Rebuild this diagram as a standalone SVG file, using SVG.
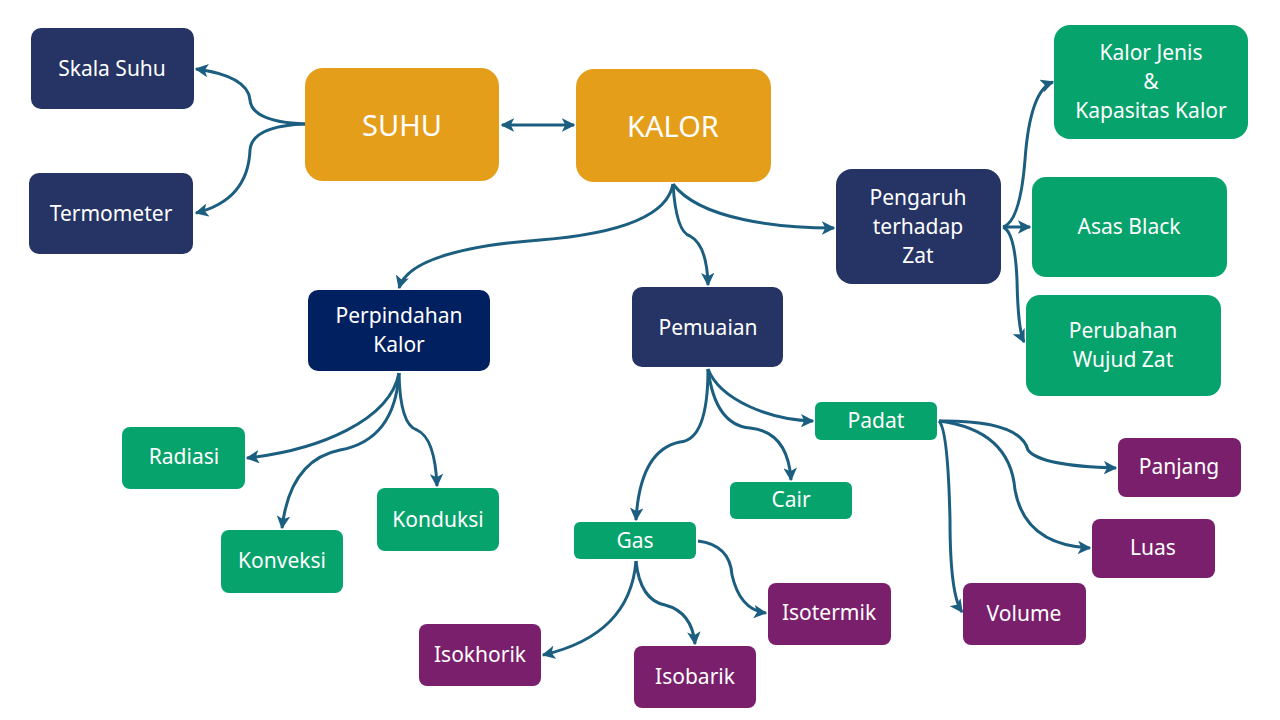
<svg xmlns="http://www.w3.org/2000/svg" width="1280" height="720" viewBox="0 0 1280 720">
<defs>
<marker id="ah" viewBox="0 0 10 10" refX="9" refY="5" markerWidth="4.5" markerHeight="4.5" orient="auto-start-reverse" markerUnits="strokeWidth">
<path d="M0,0 L10,5 L0,10 L2.5,5 Z" fill="#1B5E80"/>
</marker>
<style>
.navy{fill:#253465}
.dnavy{fill:#002060}
.orange{fill:#E59E1A}
.green{fill:#06A36C}
.purple{fill:#7A1F6C}
text{font-family:"Noto Sans","Open Sans","Liberation Sans",sans-serif;fill:#ffffff;font-size:21px;text-anchor:middle}
.big{font-size:29px}
#connectors path{fill:none;stroke:#1B5E80;stroke-width:3;marker-end:url(#ah)}
</style>
</defs>
<rect width="1280" height="720" fill="#ffffff"/>
<g id="connectors">
<path d="M305,124 Q252,122 250,100 Q248,76 196,69"/>
<path d="M305,124 Q252,126 250,150 Q248,200 196,213"/>
<path d="M502,125 L574,125" marker-start="url(#ah)"/>
<path d="M673,184 Q665,230 540,240 Q410,250 399,288"/>
<path d="M673,184 Q676,232 690,236 Q707,245 708,285"/>
<path d="M673,184 C700,220 780,228 834,228"/>
<path d="M1003,227 Q1020,222 1025,160 Q1030,90 1053,82"/>
<path d="M1003,227 L1030,227"/>
<path d="M1003,227 Q1015,232 1017,280 Q1018,330 1024,342"/>
<path d="M399,373 C390,420 320,450 247,458"/>
<path d="M399,373 Q395,440 340,450 Q290,460 282,528"/>
<path d="M399,373 Q400,425 417,430 Q435,438 437,486"/>
<path d="M708,369 Q708,440 680,442 Q640,450 636,520"/>
<path d="M708,369 Q715,425 750,428 Q788,432 791,480"/>
<path d="M708,369 C720,400 770,420 813,421"/>
<path d="M939,421 Q1020,420 1028,450 Q1040,466 1116,468"/>
<path d="M939,421 Q1010,430 1015,490 Q1025,545 1090,548"/>
<path d="M939,421 Q948,430 950,520 Q950,595 962,612"/>
<path d="M636,561 Q630,635 543,655"/>
<path d="M636,561 Q640,600 665,605 Q692,612 695,644"/>
<path d="M698,541 Q730,545 732,575 Q740,610 766,613"/>
</g>
<g id="skala-suhu"><rect class="navy" x="31" y="28" width="163" height="81" rx="10"/><text x="112" y="76">Skala Suhu</text></g>
<g id="termometer"><rect class="navy" x="29" y="173" width="164" height="81" rx="10"/><text x="111" y="221">Termometer</text></g>
<g id="suhu"><rect class="orange" x="305" y="68" width="194" height="113" rx="18"/><text class="big" x="402" y="136">SUHU</text></g>
<g id="kalor"><rect class="orange" x="576" y="69" width="195" height="113" rx="18"/><text class="big" x="673" y="137">KALOR</text></g>
<g id="kalor-jenis"><rect class="green" x="1054" y="25" width="194" height="114" rx="16"/><text x="1151" y="60">Kalor Jenis</text><text x="1151" y="89">&amp;</text><text x="1151" y="118">Kapasitas Kalor</text></g>
<g id="asas-black"><rect class="green" x="1032" y="177" width="195" height="100" rx="14"/><text x="1129" y="234">Asas Black</text></g>
<g id="perubahan-wujud"><rect class="green" x="1026" y="295" width="195" height="101" rx="14"/><text x="1123" y="338">Perubahan</text><text x="1123" y="367">Wujud Zat</text></g>
<g id="pengaruh"><rect class="navy" x="836" y="169" width="165" height="115" rx="16"/><text x="918" y="205">Pengaruh</text><text x="918" y="234">terhadap</text><text x="918" y="263">Zat</text></g>
<g id="perpindahan"><rect class="dnavy" x="308" y="290" width="182" height="81" rx="10"/><text x="399" y="323">Perpindahan</text><text x="399" y="352">Kalor</text></g>
<g id="pemuaian"><rect class="navy" x="632" y="287" width="151" height="80" rx="10"/><text x="708" y="335">Pemuaian</text></g>
<g id="radiasi"><rect class="green" x="122" y="427" width="123" height="62" rx="8"/><text x="184" y="464">Radiasi</text></g>
<g id="konveksi"><rect class="green" x="221" y="530" width="122" height="63" rx="8"/><text x="282" y="568">Konveksi</text></g>
<g id="konduksi"><rect class="green" x="377" y="488" width="122" height="63" rx="8"/><text x="438" y="527">Konduksi</text></g>
<g id="padat"><rect class="green" x="815" y="402" width="122" height="38" rx="6"/><text x="876" y="428">Padat</text></g>
<g id="cair"><rect class="green" x="730" y="482" width="122" height="37" rx="6"/><text x="791" y="507">Cair</text></g>
<g id="gas"><rect class="green" x="574" y="522" width="122" height="37" rx="6"/><text x="635" y="548">Gas</text></g>
<g id="panjang"><rect class="purple" x="1118" y="438" width="123" height="59" rx="8"/><text x="1179" y="474">Panjang</text></g>
<g id="luas"><rect class="purple" x="1092" y="519" width="123" height="59" rx="8"/><text x="1153" y="555">Luas</text></g>
<g id="volume"><rect class="purple" x="963" y="583" width="123" height="62" rx="8"/><text x="1024" y="621">Volume</text></g>
<g id="isotermik"><rect class="purple" x="768" y="583" width="123" height="62" rx="8"/><text x="829" y="620">Isotermik</text></g>
<g id="isokhorik"><rect class="purple" x="419" y="624" width="122" height="62" rx="8"/><text x="480" y="662">Isokhorik</text></g>
<g id="isobarik"><rect class="purple" x="634" y="646" width="122" height="62" rx="8"/><text x="695" y="684">Isobarik</text></g>
</svg>
